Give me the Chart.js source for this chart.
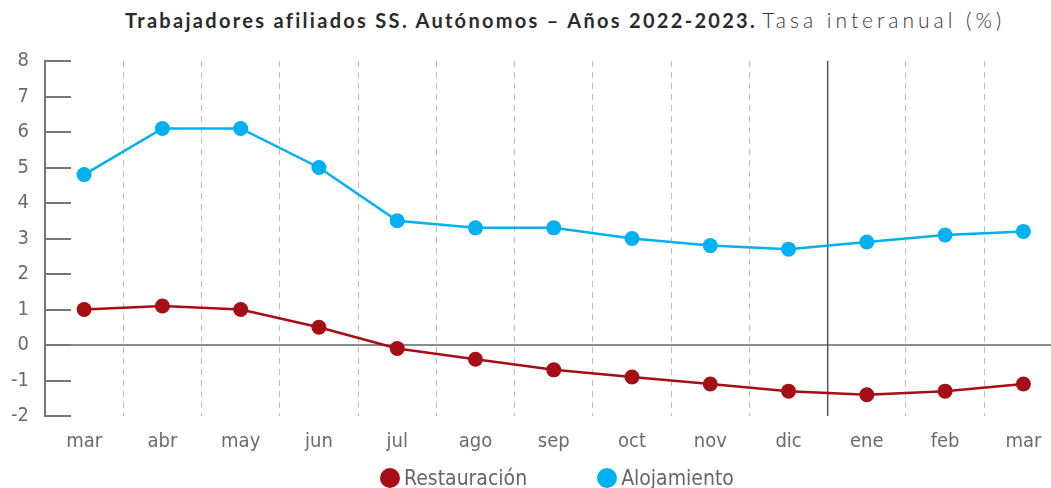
<!DOCTYPE html>
<html lang="es">
<head>
<meta charset="utf-8">
<title>Trabajadores afiliados SS. Autónomos</title>
<script src="https://cdn.jsdelivr.net/npm/chart.js@4.4.1/dist/chart.umd.min.js"></script>
<style>
  html, body { margin: 0; padding: 0; background: #fff; overflow: hidden; }
  #wrap { position: relative; width: 1051px; height: 488px; overflow: hidden; }
  #title {
    position: absolute; left: 125px; top: 7px; white-space: nowrap;
    font-family: Lato, "Open Sans", sans-serif; font-size: 20px; color: #2b2b2b;
  }
  #title b { font-weight: 700; letter-spacing: 2.3px; }
  #title span { font-size: 21px; font-weight: 300; letter-spacing: 4px; color: #333; }
  #chart { position: absolute; left: 0; top: 0; }
  #legend {
    position: absolute; left: 380px; top: 466px; margin: 0; padding: 0; list-style: none;
    display: flex; font-family: "DejaVu Sans Condensed", "DejaVu Sans", sans-serif;
    font-stretch: condensed; font-size: 21px; color: #666; line-height: 24px;
  }
  #legend li { display: flex; align-items: center; margin-right: 70px; }
  #legend i { display: inline-block; width: 20px; height: 20px; border-radius: 50%; margin-right: 4px; }
</style>
</head>
<body>
<div id="wrap">
  <div id="title"><b>Trabajadores afiliados SS. Autónomos – Años 2022-2023.</b> <span>Tasa interanual (%)</span></div>
  <canvas id="chart" width="1070" height="468"></canvas>
  <ul id="legend"></ul>
</div>
<script>
const months = ["mar", "abr", "may", "jun", "jul", "ago", "sep", "oct", "nov", "dic", "ene", "feb", "mar"];
const restauracion = [1.0, 1.1, 1.0, 0.5, -0.1, -0.4, -0.7, -0.9, -1.1, -1.3, -1.4, -1.3, -1.1];
const alojamiento = [4.8, 6.1, 6.1, 5.0, 3.5, 3.3, 3.3, 3.0, 2.8, 2.7, 2.9, 3.1, 3.2];
const yMin = -2, yMax = 8, yStep = 1;
const yearBreak = 10; // first month of 2023 ("ene")

const RED = "#a50e15";
const BLUE = "#00b0f0";
const tickFamily = "'DejaVu Sans Condensed', 'DejaVu Sans', sans-serif";

// short tick marks drawn inside the plot + solid line between years
const axisExtras = {
  id: "axisExtras",
  beforeDatasetsDraw(chart) {
    const { ctx, chartArea, scales: { x, y } } = chart;
    ctx.save();
    ctx.strokeStyle = "#777";
    ctx.lineWidth = 2;
    y.ticks.forEach(t => {
      const py = Math.round(y.getPixelForValue(t.value));
      ctx.beginPath();
      ctx.moveTo(chartArea.left, py);
      ctx.lineTo(chartArea.left + 26, py);
      ctx.stroke();
    });
    const sx = (x.getPixelForValue(yearBreak - 1) + x.getPixelForValue(yearBreak)) / 2;
    ctx.strokeStyle = "#555";
    ctx.lineWidth = 1.5;
    ctx.beginPath();
    ctx.moveTo(sx, chartArea.top);
    ctx.lineTo(sx, chartArea.bottom);
    ctx.stroke();
    ctx.restore();
  }
};

const chart = new Chart(document.getElementById("chart"), {
  type: "line",
  data: {
    labels: months,
    datasets: [
      { label: "Restauración", data: restauracion, borderColor: RED, backgroundColor: RED },
      { label: "Alojamiento", data: alojamiento, borderColor: BLUE, backgroundColor: BLUE }
    ]
  },
  options: {
    responsive: false,
    animation: false,
    layout: { padding: { top: 61, bottom: 0, left: 0, right: 0 } },
    elements: {
      line: { borderWidth: 2.5, tension: 0 },
      point: { radius: 7.5, hoverRadius: 7.5, borderWidth: 0 }
    },
    plugins: {
      legend: { display: false },
      title: { display: false },
      tooltip: { enabled: false }
    },
    scales: {
      x: {
        offset: true,
        grid: {
          offset: true,
          drawTicks: false,
          color: c => (c.index === 0 || c.index === yearBreak) ? "transparent" : "#bdbdbd",
          lineWidth: 1
        },
        border: { display: false, dash: [6, 5] },
        ticks: { color: "#6b6b6b", font: { family: tickFamily, size: 20 }, padding: 14 }
      },
      y: {
        min: yMin,
        max: yMax,
        afterFit: s => { s.width = 45; },
        grid: {
          drawTicks: false,
          color: c => c.tick && c.tick.value === 0 ? "#8c8c8c" : "transparent",
          lineWidth: 2
        },
        border: { display: true, color: "#777", width: 2 },
        ticks: { stepSize: yStep, color: "#6b6b6b", font: { family: tickFamily, size: 20 }, padding: 16 }
      }
    }
  },
  plugins: [axisExtras]
});

// html legend
const legendEl = document.getElementById("legend");
chart.data.datasets.forEach(ds => {
  const li = document.createElement("li");
  li.innerHTML = `<i style="background:${ds.borderColor}"></i>${ds.label}`;
  legendEl.appendChild(li);
});
</script>
</body>
</html>
